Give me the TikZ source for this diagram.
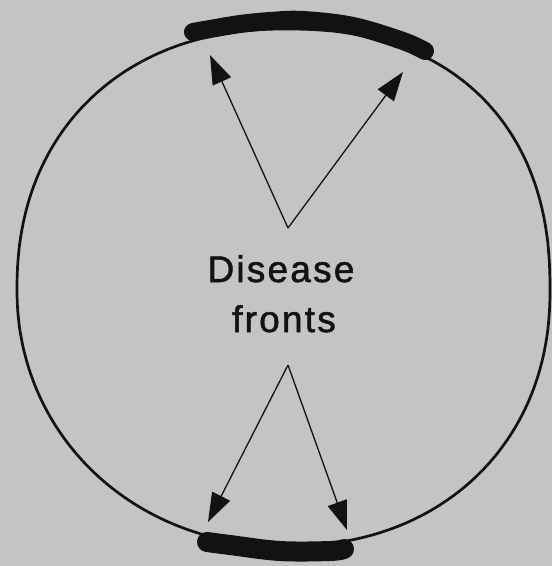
\documentclass[tikz,border=0pt]{standalone}
\usepackage{fontspec}
\setmainfont{Liberation Sans}
\newfontfamily\lblfont[LetterSpace=6,FakeBold=1.5]{Liberation Sans}
\usetikzlibrary{arrows.meta}
\definecolor{bg}{RGB}{196,196,196}
\definecolor{ink}{RGB}{18,18,18}
\tikzset{
  rim/.style={draw=ink, line width=2.7pt, line join=round},
  band/.style={draw=ink, line width=18pt, line cap=round, line join=round},
  pointer/.style={draw=ink, line width=1.3pt, -{Triangle[length=29pt,width=20pt]}},
  lbl/.style={font=\lblfont\fontsize{37}{50}\selectfont, text=ink, anchor=base, inner sep=0pt}
}
\begin{document}
\begin{tikzpicture}[x=1pt,y=-1pt]
\useasboundingbox (0,0) rectangle (552,566);
\fill[bg] (0,0) rectangle (552,566);
% outline: four superellipse quadrants
\draw[rim]
  plot[domain=0.2:89.8, samples=70, variable=\t]
    ({286+264*pow(cos(\t),2/2.3)}, {290-261*pow(sin(\t),2/2.3)})
  -- plot[domain=90.2:179.8, samples=70, variable=\t]
    ({286-269*pow(-cos(\t),2/2.2)}, {290-261*pow(sin(\t),2/2.2)})
  -- plot[domain=180.2:269.8, samples=70, variable=\t]
    ({286-269*pow(-cos(\t),2/2.05)}, {290+256*pow(-sin(\t),2/2.05)})
  -- plot[domain=270.2:359.8, samples=70, variable=\t]
    ({286+264*pow(cos(\t),2/2.15)}, {290+256*pow(-sin(\t),2/2.15)})
  -- cycle;
% thick bands
\draw[band] plot[smooth, tension=0.6] coordinates {
 (193,32) (210,29) (240,24) (270,21) (303,20) (353,26) (403,41) (425,51)};
\draw[band, line width=20pt] plot[smooth, tension=0.6] coordinates {
 (207,542) (230,545) (280,551) (330,551) (344,549)};
% label
\node[lbl] (l1) at (281,282) {Disease};
\node[lbl] (l2) at (284,332) {fronts};
% arrows
\coordinate (ta) at (288,228);
\coordinate (tl) at (210,55);
\coordinate (tr) at (403,72);
\coordinate (ba) at (288,365);
\coordinate (bl) at (208,522);
\coordinate (br) at (347,530);
\draw[pointer] (ta) -- (tl);
\draw[pointer] (ta) -- (tr);
\draw[pointer] (ba) -- (bl);
\draw[pointer] (ba) -- (br);
\end{tikzpicture}
\end{document}
